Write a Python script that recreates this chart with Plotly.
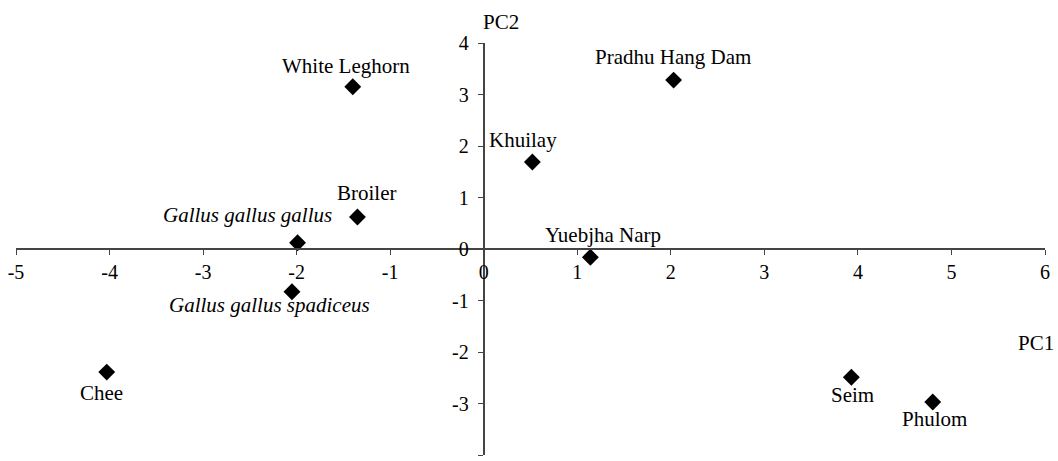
import plotly.graph_objects as go

breeds = ["White Leghorn", "Pradhu Hang Dam", "Khuilay", "Broiler",
          "Gallus gallus gallus", "Yuebjha Narp",
          "Gallus gallus spadiceus", "Chee", "Seim", "Phulom"]
italic = [False, False, False, False, True, False, True, False, False, False]
pc1 = [-1.40, 2.03, 0.52, -1.35, -1.99, 1.14, -2.05, -4.03, 3.93, 4.80]
pc2 = [3.15, 3.28, 1.69, 0.62, 0.12, -0.16, -0.83, -2.39, -2.49, -2.97]
x_ticks = [-5, -4, -3, -2, -1, 0, 1, 2, 3, 4, 5, 6]
y_ticks = [-4, -3, -2, -1, 0, 1, 2, 3, 4]

# label offsets in pixels (presentation only)
label_shift = [(-7, 21), (-1, 23), (-9, 22), (9, 24), (-50, 28), (13, 22),
               (-22, -13), (-5, -21), (1, -18), (2, -17)]

FONT = "Liberation Serif"
LABEL_SIZE = 21
fig = go.Figure()
fig.add_trace(go.Scatter(
    x=pc1, y=pc2, mode="markers",
    marker=dict(symbol="diamond", size=13, color="black"),
    hoverinfo="skip", showlegend=False))

for name, it, x, y, (dx, dy) in zip(breeds, italic, pc1, pc2, label_shift):
    txt = "<i>" + name + "</i>" if it else name
    fig.add_annotation(x=x, y=y, text=txt, showarrow=False,
                       xshift=dx, yshift=dy,
                       font=dict(family=FONT, size=LABEL_SIZE, color="black"))

fig.add_annotation(x=6, y=0, xref="x", yref="y", text="PC1", showarrow=False,
                   xshift=-9, yshift=-94,
                   font=dict(family=FONT, size=LABEL_SIZE, color="black"))
fig.add_annotation(x=0, y=4, xref="x", yref="y", text="PC2", showarrow=False,
                   xshift=17, yshift=21,
                   font=dict(family=FONT, size=LABEL_SIZE, color="black"))

tickfont = dict(family=FONT, size=20, color="black")
fig.update_layout(
    width=1058, height=461,
    margin=dict(l=16, r=13, t=43, b=6),
    paper_bgcolor="white", plot_bgcolor="white",
    font=dict(family=FONT, size=20, color="black"),
    xaxis=dict(range=[-5, 6], tickvals=x_ticks, ticktext=[str(v) for v in x_ticks],
               showgrid=False, zeroline=False, showline=True, linecolor="#444",
               linewidth=2, ticks="outside", ticklen=5, tickcolor="#444",
               tickfont=tickfont, anchor="free", position=0.5, fixedrange=True),
    yaxis=dict(range=[-4, 4], tickvals=y_ticks, ticktext=[str(v) for v in y_ticks],
               showgrid=False, zeroline=False, showline=True, linecolor="#444",
               linewidth=2, ticks="outside", ticklen=5, tickcolor="#444",
               tickfont=tickfont, ticklabelstandoff=5,
               anchor="free", position=5 / 11, fixedrange=True),
)

fig.write_html("out.html", config={"displayModeBar": False},
               post_script="document.body.style.margin='0';document.body.style.overflow='hidden';")
